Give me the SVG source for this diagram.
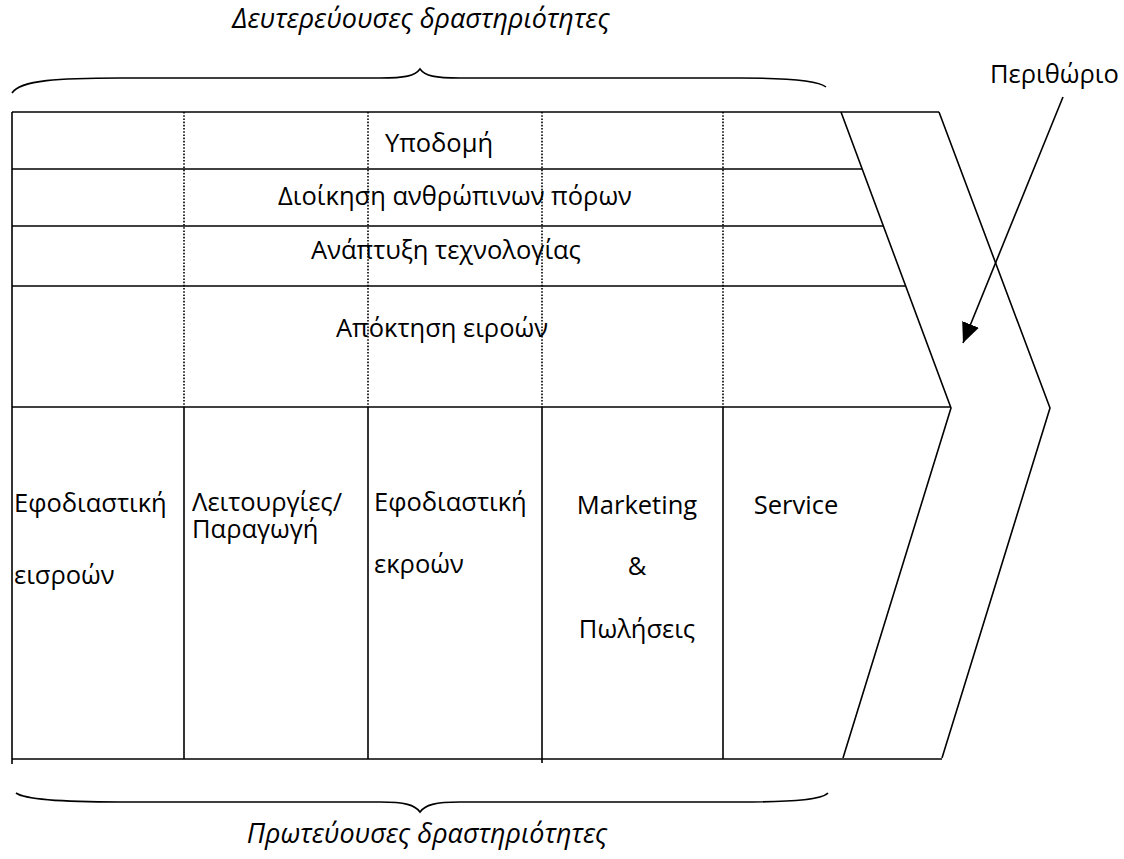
<svg xmlns="http://www.w3.org/2000/svg" width="1124" height="859" viewBox="0 0 1124 859">
<style>
.t{font-family:"Open Sans","Noto Sans",sans-serif;font-size:25.5px;fill:#000}
.i{font-style:italic;font-size:27px}
.m{text-anchor:middle}
.ln{stroke:#000;stroke-width:1.6;fill:none}
.dt{stroke:#000;stroke-width:1.6;stroke-dasharray:1.6 1.6;fill:none}
</style>
<defs>
<marker id="ah2" viewBox="0 0 20 18" refX="20" refY="9" markerWidth="20" markerHeight="18" markerUnits="userSpaceOnUse" orient="auto">
<path d="M0,0 L20,9 L0,18 z" fill="#000"/>
</marker>
</defs>
<rect width="1124" height="859" fill="#fff"/>
<g id="frame">
<line class="ln" x1="12" y1="112" x2="939" y2="112"/>
<line class="ln" x1="12" y1="112" x2="12" y2="764"/>
<line class="ln" x1="12" y1="169" x2="862" y2="169"/>
<line class="ln" x1="12" y1="226" x2="883" y2="226"/>
<line class="ln" x1="12" y1="286" x2="905" y2="286"/>
<line class="ln" x1="12" y1="407" x2="951" y2="407"/>
<line class="ln" x1="12" y1="759" x2="942" y2="759"/>
<polyline class="ln" points="841,112 951,408 843,758"/>
<polyline class="ln" points="939,112 1050,408 942,758"/>
<line class="dt" x1="184" y1="112" x2="184" y2="407"/>
<line class="dt" x1="368" y1="112" x2="368" y2="407"/>
<line class="dt" x1="542" y1="112" x2="542" y2="407"/>
<line class="dt" x1="723" y1="112" x2="723" y2="407"/>
<line class="ln" x1="184" y1="407" x2="184" y2="759"/>
<line class="ln" x1="368" y1="407" x2="368" y2="759"/>
<line class="ln" x1="542" y1="407" x2="542" y2="763"/>
<line class="ln" x1="723" y1="407" x2="723" y2="759"/>
</g>
<g id="braces">
<path class="ln" d="M12,93 C20,80 60,78 120,78 L380,78 C405,78 415,76 420,69 C425,76 435,78 460,78 L740,78 C800,78 820,82 826,87"/>
<path class="ln" d="M16,793 C24,799 60,802 120,802 L380,802 C405,802 415,805 420,812 C425,805 435,802 460,802 L740,802 C800,802 822,799 828,793"/>
</g>
<g id="titles">
<text class="t i m" x="421" y="28">Δευτερεύουσες δραστηριότητες</text>
<text class="t i m" x="427" y="843">Πρωτεύουσες δραστηριότητες</text>
</g>
<g id="support">
<text class="t m" x="439" y="152">Υποδομή</text>
<text class="t m" x="455" y="205">Διοίκηση ανθρώπινων πόρων</text>
<text class="t m" x="446" y="259">Ανάπτυξη τεχνολογίας</text>
<text class="t m" x="442" y="337">Απόκτηση ειροών</text>
</g>
<g id="primary">
<text class="t" x="14" y="512">Εφοδιαστική</text>
<text class="t" x="14" y="584">εισροών</text>
<text class="t" x="192" y="511"><tspan x="192" y="511">Λειτουργίες/</tspan><tspan x="192" y="538">Παραγωγή</tspan></text>
<text class="t" x="374" y="511">Εφοδιαστική</text>
<text class="t" x="374" y="573">εκροών</text>
<text class="t m" x="637" y="514">Marketing</text>
<text class="t m" x="637" y="575">&amp;</text>
<text class="t m" x="637" y="638">Πωλήσεις</text>
<text class="t m" x="796" y="514">Service</text>
</g>
<g id="margin">
<text class="t" x="990" y="83">Περιθώριο</text>
</g>
<g id="connectors">
<line class="ln" x1="1063" y1="97" x2="963" y2="343" marker-end="url(#ah2)"/>
</g>
</svg>
